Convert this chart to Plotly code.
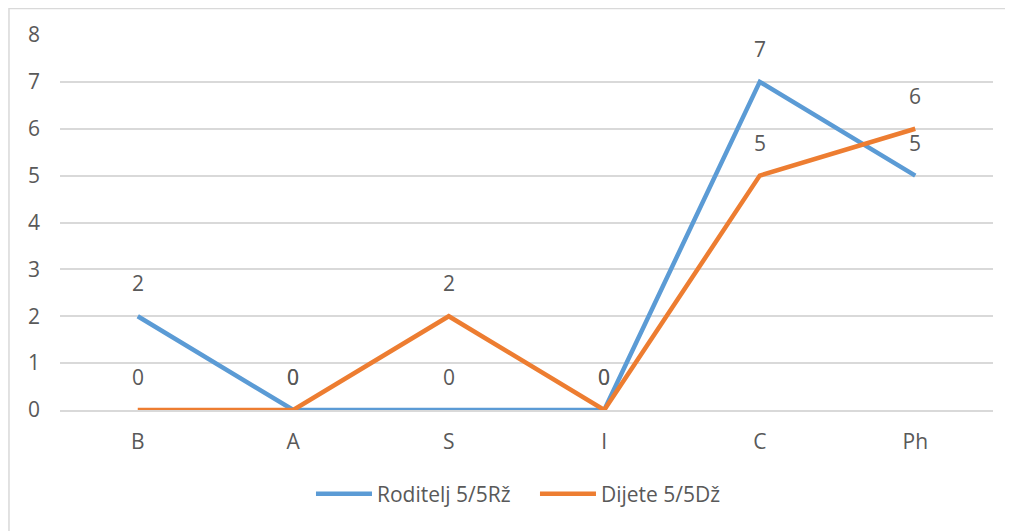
import plotly.graph_objects as go

categories = ["B", "A", "S", "I", "C", "Ph"]
roditelj = [2, 0, 0, 0, 7, 5]
dijete = [0, 0, 2, 0, 5, 6]
series_names = ["Roditelj 5/5Rž", "Dijete 5/5Dž"]
y_ticks = [0, 1, 2, 3, 4, 5, 6, 7, 8]

BLUE = "#5B9BD5"
ORANGE = "#ED7D31"
TEXT = "#595959"
GRID = "#D9D9D9"
FONT = "Open Sans"
FS = 21

fig = go.Figure()
for name, vals, col in [(series_names[0], roditelj, BLUE), (series_names[1], dijete, ORANGE)]:
    fig.add_trace(go.Scatter(x=categories, y=vals, name=name, mode="lines",
                             line=dict(color=col, width=4.5)))

annotations = []
for vals in (roditelj, dijete):
    for c, v in zip(categories, vals):
        annotations.append(dict(x=c, y=v, text=str(v), showarrow=False, yshift=33,
                                font=dict(family=FONT, size=FS, color=TEXT)))

fig.update_layout(
    width=1013, height=531,
    margin=dict(l=52, r=28, t=27, b=129),
    paper_bgcolor="white", plot_bgcolor="white",
    font=dict(family=FONT, size=FS, color=TEXT),
    showlegend=True,
    legend=dict(orientation="h", x=0.269, xanchor="left", y=-0.224, yanchor="middle",
                font=dict(family=FONT, size=FS, color=TEXT), itemwidth=56,
                entrywidth=153, entrywidthmode="pixels"),
    annotations=annotations,
    shapes=[dict(type="rect", xref="paper", yref="paper", x0=-0.0547, x1=1.2, y0=-0.6, y1=1.0707,
                 line=dict(color=GRID, width=1.5), layer="below")],
)
fig.update_xaxes(type="category", range=[-0.5, 5.5], showgrid=False, showline=True,
                 linecolor=GRID, linewidth=1.5, ticks="", ticklabelstandoff=12,
                 tickfont=dict(family=FONT, size=FS, color=TEXT), zeroline=False)
fig.update_yaxes(range=[0, 8], tickvals=y_ticks, showgrid=True, gridcolor=GRID, gridwidth=1.5,
                 showline=False, zeroline=False, ticks="", ticklabelstandoff=19,
                 tickfont=dict(family=FONT, size=FS, color=TEXT))

fig.write_html("out.html")
